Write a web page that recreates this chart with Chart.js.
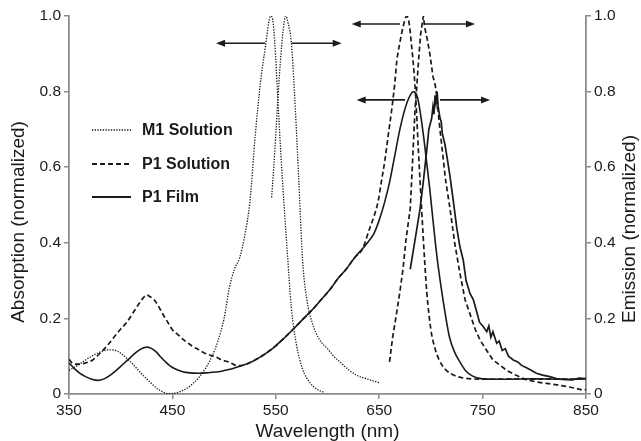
<!DOCTYPE html>
<html>
<head>
  <title>M1 / P1 absorption and emission</title>
  <script src="https://cdn.jsdelivr.net/npm/chart.js"></script>
  <style>
    body {
        margin: 0;
        background-color: white;
    }
  </style>
</head>
<body>

    <canvas id="myChart" width="641" height="441"></canvas>

    <script>
        // wavelength (nm) / normalized value
        const m1AbsX = [350,358,366,374,382,388,394,400,406,412,418,424,430,436,442,446,452,458,464,470,476,482,488,494,500,505,510,515,520,525,530,535,540,543,545,547,549,552,555,558,561,565,570,576,583,590,596];
        const m1AbsY = [0.063,0.075,0.09,0.103,0.113,0.117,0.116,0.108,0.094,0.078,0.06,0.043,0.027,0.013,0.004,0.001,0.002,0.007,0.015,0.028,0.045,0.068,0.098,0.14,0.2,0.28,0.33,0.36,0.42,0.51,0.68,0.82,0.92,0.98,1.0,0.99,0.93,0.78,0.63,0.5,0.38,0.23,0.13,0.065,0.03,0.012,0.005];

        const m1EmX = [546,549,552,555,557,559.5,562,565,568,572,576,580,585,592,600,606,612,620,628,638,650];
        const m1EmY = [0.52,0.64,0.78,0.9,0.96,1.0,0.98,0.93,0.8,0.58,0.35,0.25,0.19,0.145,0.12,0.1,0.085,0.065,0.05,0.04,0.03];

        const p1SolAbsX = [350,353,358,363,368,373,380,387,394,400,406,412,418,422,425,428,432,436,440,445,450,455,460,465,470,475,480,486,492,498,504,508,512,518,525,532,540,548,557,567,577,586,594,602,610,618,626,634,641,645,649,652,655.6,659,662,665,667,670,673,676.6,679,681,684,686,688,691,694,696,700,704,708,714,722,732,740,760,780,800,820,840,850];
        const p1SolAbsY = [0.092,0.082,0.079,0.08,0.084,0.09,0.108,0.128,0.152,0.172,0.19,0.215,0.24,0.255,0.262,0.258,0.25,0.235,0.215,0.192,0.17,0.158,0.145,0.135,0.125,0.118,0.11,0.103,0.098,0.09,0.085,0.08,0.075,0.076,0.083,0.093,0.107,0.123,0.145,0.172,0.2,0.225,0.25,0.275,0.305,0.33,0.36,0.385,0.44,0.47,0.51,0.56,0.62,0.69,0.75,0.82,0.88,0.93,0.97,1.0,0.98,0.93,0.84,0.75,0.64,0.49,0.35,0.27,0.17,0.12,0.09,0.065,0.05,0.042,0.04,0.039,0.04,0.039,0.04,0.039,0.04];

        const p1SolEmX = [660,663,666,670,673,676,680,682,684.6,686,688,690,692.7,694,696,699,702,704,705.6,708,710.4,714,718.5,723,728,733,738,743,747.5,754,760,766,773,782,792,802,812,822,831,840,847,850];
        const p1SolEmY = [0.085,0.15,0.2,0.27,0.33,0.41,0.49,0.6,0.75,0.8,0.88,0.95,1.0,0.97,0.945,0.9,0.84,0.82,0.79,0.72,0.66,0.57,0.49,0.4,0.32,0.25,0.21,0.17,0.143,0.115,0.09,0.078,0.063,0.05,0.038,0.032,0.028,0.024,0.02,0.015,0.01,0.012];

        const p1FilmAbsX = [350,355,360,366,372,378,384,390,396,402,408,414,419,423,426,430,434,438,443,448,454,460,467,475,483,492,500,508,516,525,532,540,548,557,567,577,586,594,602,610,618,626,634,640,645,650,655,660,665,670,675,679,683,687,690,693,696,699,702,706,710,714,718,723,728,734,740,750,770,800,830,850];
        const p1FilmAbsY = [0.082,0.068,0.056,0.046,0.039,0.036,0.04,0.05,0.063,0.078,0.093,0.108,0.118,0.123,0.124,0.12,0.112,0.1,0.086,0.074,0.065,0.059,0.056,0.055,0.056,0.058,0.062,0.067,0.074,0.083,0.093,0.107,0.123,0.145,0.172,0.2,0.225,0.25,0.275,0.305,0.33,0.36,0.385,0.405,0.425,0.46,0.505,0.56,0.63,0.7,0.755,0.785,0.8,0.785,0.74,0.68,0.61,0.54,0.46,0.36,0.28,0.21,0.15,0.11,0.085,0.06,0.048,0.04,0.039,0.04,0.039,0.04];

        const p1FilmEmX = [680,683,686,689.5,693,696,698,700.8,702,703,704,705,706,707,708.8,710,711,713.6,716,718.5,721.7,725,728,731.3,734,737.8,741,744,747,750.7,754,756,758,760,763.6,766,769,772,775,779.7,784,788,792,797,802,808,815,822,830,837,843,850];
        const p1FilmEmY = [0.33,0.38,0.43,0.49,0.57,0.645,0.7,0.73,0.76,0.74,0.79,0.77,0.8,0.76,0.73,0.72,0.69,0.66,0.62,0.575,0.51,0.44,0.39,0.354,0.3,0.266,0.25,0.22,0.19,0.178,0.165,0.18,0.15,0.165,0.134,0.14,0.115,0.12,0.1,0.09,0.085,0.075,0.07,0.063,0.055,0.05,0.046,0.04,0.038,0.037,0.042,0.041];

        // double arrows above the peaks: y level, start and end wavelength
        const arrowY = [0.928, 0.928, 0.979, 0.979, 0.778, 0.778];
        const arrowFrom = [539.6, 565.4, 670.1, 694.3, 675, 708.8];
        const arrowTo = [492.2, 613.7, 623.4, 742.6, 628.2, 757.2];

        const legendLabels = ['M1 Solution', 'P1 Solution', 'P1 Film'];
        const xTicks = [350, 450, 550, 650, 750, 850];

        const FONT = '"Liberation Sans", Arial, Helvetica, sans-serif';
        const INK = '#1a1a1a';
        const AXIS = '#8c8c8c';

        const dotted = [1.3, 1.4];
        const dashed = [5, 3];

        function pts(xs, ys) {
            return xs.map((x, i) => ({x: x, y: ys[i]}));
        }

        function line(label, xs, ys, dash, width, axis, smooth) {
            return {
                label: label,
                data: pts(xs, ys),
                borderColor: INK,
                borderWidth: width,
                borderDash: dash,
                pointRadius: 0,
                fill: false,
                yAxisID: axis,
                cubicInterpolationMode: smooth ? 'monotone' : 'default',
                tension: 0
            };
        }

        const decor = {
            id: 'decor',
            afterDatasetsDraw(chart) {
                const ctx = chart.ctx;
                const xs = chart.scales.x;
                const ys = chart.scales.y;
                ctx.save();

                // arrows
                ctx.strokeStyle = INK;
                ctx.fillStyle = INK;
                ctx.lineWidth = 1.6;
                ctx.setLineDash([]);
                for (let i = 0; i < arrowY.length; i++) {
                    const x1 = xs.getPixelForValue(arrowFrom[i]);
                    const x2 = xs.getPixelForValue(arrowTo[i]);
                    const y = ys.getPixelForValue(arrowY[i]);
                    const dir = x2 > x1 ? 1 : -1;
                    ctx.beginPath();
                    ctx.moveTo(x1, y);
                    ctx.lineTo(x2 - dir * 6, y);
                    ctx.stroke();
                    ctx.beginPath();
                    ctx.moveTo(x2, y);
                    ctx.lineTo(x2 - dir * 9, y - 3.5);
                    ctx.lineTo(x2 - dir * 9, y + 3.5);
                    ctx.closePath();
                    ctx.fill();
                }

                // legend
                const styles = [[dotted, 1.3], [dashed, 1.8], [[], 1.8]];
                const rowY = [130, 164, 197];
                ctx.font = 'bold 16px ' + FONT;
                ctx.textBaseline = 'middle';
                ctx.textAlign = 'left';
                for (let i = 0; i < legendLabels.length; i++) {
                    ctx.setLineDash(styles[i][0]);
                    ctx.lineWidth = styles[i][1];
                    ctx.beginPath();
                    ctx.moveTo(92, rowY[i]);
                    ctx.lineTo(131, rowY[i]);
                    ctx.stroke();
                    ctx.fillText(legendLabels[i], 142, rowY[i] + 1);
                }
                ctx.setLineDash([]);

                // y axis titles (both read bottom to top)
                ctx.font = '19px ' + FONT;
                ctx.textAlign = 'center';
                ctx.fillStyle = INK;
                ctx.translate(19, 222);
                ctx.rotate(-Math.PI / 2);
                ctx.fillText('Absorption (normalized)', 0, 0);
                ctx.rotate(Math.PI / 2);
                ctx.translate(630 - 19, 229 - 222);
                ctx.rotate(-Math.PI / 2);
                ctx.fillText('Emission (normalized)', 0, 0);
                ctx.restore();
            }
        };

        function yAxis(pos, width) {
            return {
                type: 'linear',
                position: pos,
                min: 0,
                max: 1,
                ticks: {
                    stepSize: 0.2,
                    color: INK,
                    padding: 3,
                    font: {family: FONT, size: 15.5},
                    callback: v => v === 0 ? '0' : v.toFixed(1)
                },
                grid: {drawOnChartArea: false, color: AXIS, tickLength: 5, lineWidth: 1.5},
                border: {color: AXIS, width: 1.8},
                afterFit: s => { s.width = width; }
            };
        }

        const ctx = document.getElementById('myChart').getContext('2d');
        const myChart = new Chart(ctx, {
            type: 'line',
            data: {
                datasets: [
                    line('M1 Solution', m1AbsX, m1AbsY, dotted, 1.3, 'y', true),
                    line('M1 Solution', m1EmX, m1EmY, dotted, 1.3, 'y2', true),
                    line('P1 Solution', p1SolAbsX, p1SolAbsY, dashed, 1.7, 'y', true),
                    line('P1 Solution', p1SolEmX, p1SolEmY, dashed, 1.7, 'y2', false),
                    line('P1 Film', p1FilmAbsX, p1FilmAbsY, [], 1.6, 'y', true),
                    line('P1 Film', p1FilmEmX, p1FilmEmY, [], 1.7, 'y2', false)
                ]
            },
            options: {
                responsive: false,
                animation: false,
                layout: {padding: {top: 16, left: 0, right: 0, bottom: 0}},
                plugins: {
                    legend: {display: false},
                    tooltip: {enabled: false}
                },
                scales: {
                    x: {
                        type: 'linear',
                        min: 350,
                        max: 850,
                        afterBuildTicks: s => { s.ticks = xTicks.map(v => ({value: v})); },
                        ticks: {
                            color: INK,
                            padding: 2,
                            maxRotation: 0,
                            font: {family: FONT, size: 15.5}
                        },
                        grid: {drawOnChartArea: false, color: AXIS, tickLength: 5, lineWidth: 1.5},
                        border: {color: AXIS, width: 1.8},
                        title: {
                            display: true,
                            text: 'Wavelength (nm)',
                            color: INK,
                            padding: 0,
                            font: {family: FONT, size: 19, lineHeight: 1}
                        },
                        afterFit: s => { s.height = 47; }
                    },
                    y: yAxis('left', 69),
                    y2: yAxis('right', 55)
                }
            },
            plugins: [decor]
        });
    </script>

</body>
</html>
